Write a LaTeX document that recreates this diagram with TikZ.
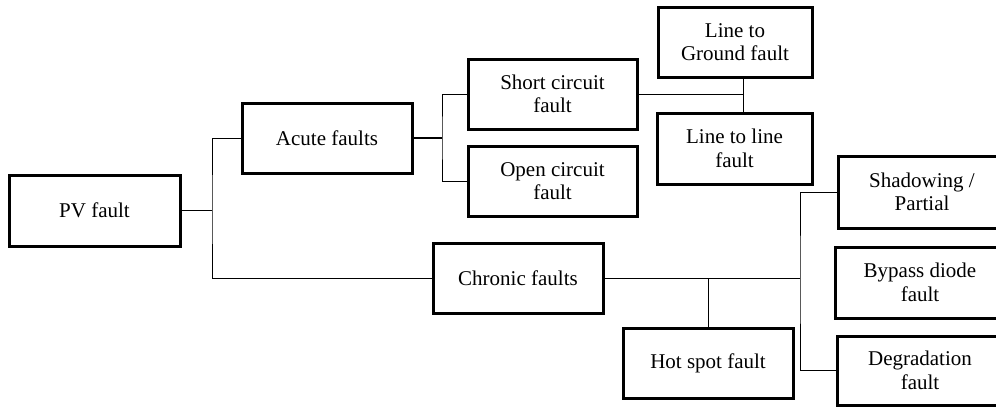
\documentclass[tikz,border=0pt]{standalone}
\usepackage{fontspec}
\setmainfont{Liberation Serif}
\newfontfamily\tnr{Liberation Serif}
\begin{document}
\begin{tikzpicture}[x=0.5pt,y=-0.5pt,
  box/.style n args={2}{draw, line width=1.5pt, minimum width=#1*0.5pt, minimum height=#2*0.5pt,
    inner sep=0pt, align=center, font=\tnr\fontsize{10.5pt}{11.8pt}\selectfont},
  conn/.style={line width=0.5pt},
  thick conn/.style={line width=1pt}]
\useasboundingbox (0,0) rectangle (996,407);
\clip (0,0) rectangle (996,407);
\node[box={171}{71}] (pv) at (94.5,210.5) {PV fault};
\node[box={170}{70}] (acute) at (327,138) {Acute faults};
\node[box={169}{70}] (short) at (552.5,94) {Short circuit\\fault};
\node[box={169}{70}] (open) at (552.5,181) {Open circuit\\fault};
\node[box={154}{70}] (ltg) at (735,42) {Line to\\Ground fault};
\node[box={155}{71}] (ltl) at (734.5,148.5) {Line to line\\fault};
\node[box={170}{70}] (chronic) at (518,278) {Chronic faults};
\node[box={168}{72}] (shadow) at (922,192) {Shadowing /\\Partial};
\node[box={170}{71}] (bypass) at (920,282.5) {Bypass diode\\fault};
\node[box={166}{69}] (degr) at (920,370.5) {Degradation\\fault};
\node[box={170}{70}] (hot) at (708,363) {Hot spot fault};
\coordinate (j1) at (212,210.5);
\coordinate (j2) at (442,138);
\coordinate (j3) at (743,94);
\coordinate (j4) at (800,278);
\coordinate (j5) at (708,278);
\draw[conn] (pv.east) -- (j1);
\draw[conn] (acute.west) -| (j1) |- (chronic.west);
\draw[thick conn] (acute.east) -- (j2);
\draw[conn] (short.west) -| (j2) |- (open.west);
\draw[conn] (short.east) -- (j3);
\draw[conn] (j3 |- ltg.south) -- (j3 |- ltl.north);
\draw[conn] (chronic.east) -- (j4);
\draw[conn] (shadow.west) -| (j4) |- (degr.west);
\draw[conn] (j5) -- (hot.north);
\end{tikzpicture}
\end{document}
